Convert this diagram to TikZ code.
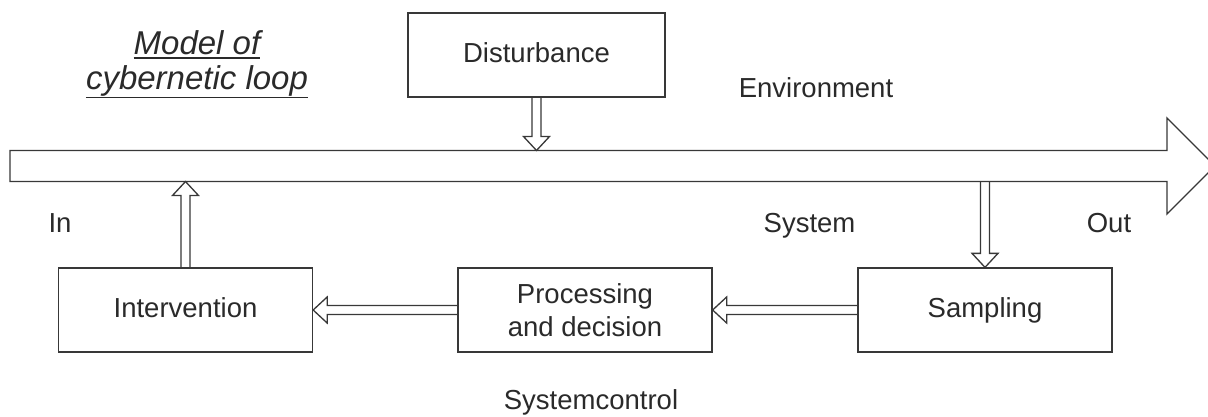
\documentclass[tikz,border=0pt]{standalone}
\usepackage{fontspec}
\setmainfont{Liberation Sans}
\usetikzlibrary{calc}
\definecolor{ink}{HTML}{2A2A2A}
\definecolor{edgec}{HTML}{383838}
\tikzset{
  lineish/.style={draw=edgec, line width=1.3pt, line join=miter},
  conn/.style={lineish},
  blk/.style={lineish, fill=white, inner sep=0pt, minimum width=254pt, minimum height=84pt,
    text=ink, font=\fontsize{27.5}{33}\selectfont, align=center},
  oneline/.style={text height=20pt, text depth=6pt},
  lbl/.style={text=ink, font=\fontsize{27.5}{33}\selectfont, inner sep=0pt, anchor=base},
  ttl/.style={text=ink, font=\fontsize{33}{35}\selectfont\itshape, inner sep=0pt, anchor=base},
  uline/.style={draw=ink, line width=1.7pt}
}
\newcommand\hollowconn[2]{%
  \path let \p1=(#1), \p2=(#2), \n1={veclen(\x2-\x1,\y2-\y1)}, \n2={atan2(\y2-\y1,\x2-\x1)} in
    \pgfextra{\xdef\hclen{\n1}\xdef\hcang{\n2}\xdef\hcx{\x1}\xdef\hcy{\y1}};
  \draw[conn, shift={(\hcx,\hcy)}, rotate=\hcang]
    (0pt,-4.5pt) -- ({\hclen-14pt},-4.5pt) -- ({\hclen-14pt},-13pt) -- ({\hclen+0pt},0pt)
    -- ({\hclen-14pt},13pt) -- ({\hclen-14pt},4.5pt) -- (0pt,4.5pt);
}
\begin{document}
\begin{tikzpicture}[x=1pt,y=-1pt]
\useasboundingbox (0,0) rectangle (1208,416);
\fill[white] (0,0) rectangle (1208,416);

% main flow arrow (environment / system)
\draw[lineish] (10,150.5) -- (1167,150.5) -- (1167,118) -- (1215,166) -- (1167,214)
  -- (1167,181.5) -- (10,181.5) -- cycle;
\coordinate (bodytop) at (0,150.5);
\coordinate (bodybot) at (0,181.5);

% title
\node[ttl] (t1) at (197,54) {Model of};
\node[ttl] (t2) at (197,89) {cybernetic loop};
\draw[uline] ([yshift=-4pt]t1.base west) -- ([yshift=-4pt]t1.base east);
\draw[uline] ([yshift=-8.5pt]t2.base west) -- ([yshift=-8.5pt]t2.base east);

% blocks
\node[blk, oneline, minimum width=257pt] (dist) at (536.5,55) {Disturbance};
\node[blk, oneline] (int) at (185.5,310) {Intervention};
\node[blk] (proc) at (585,310) {Processing\\and decision};
\node[blk, oneline] (samp) at (985,310) {Sampling};

% labels
\node[lbl] (env) at (816,97) {Environment};
\node[lbl] (in) at (60,232) {In};
\node[lbl] (sys) at (809.5,232) {System};
\node[lbl] (out) at (1109,232) {Out};
\node[lbl] (sc) at (591,409) {Systemcontrol};

% connectors
\coordinate (dtip) at (dist.south |- bodytop);
\coordinate (itip) at (int.north |- bodybot);
\coordinate (sstart) at (samp.north |- bodybot);
\hollowconn{dist.south}{dtip}
\hollowconn{int.north}{itip}
\hollowconn{sstart}{samp.north}
\hollowconn{samp.west}{proc.east}
\hollowconn{proc.west}{int.east}
\end{tikzpicture}
\end{document}
